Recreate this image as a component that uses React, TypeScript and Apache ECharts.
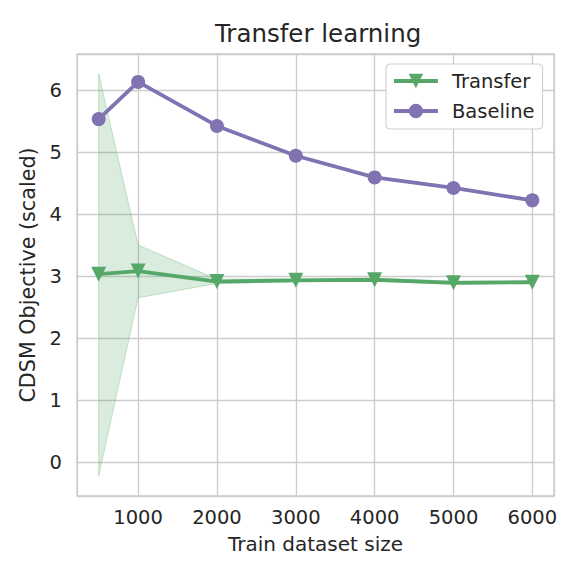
import React, { useEffect, useRef } from "react";
import * as echarts from "echarts";

const trainSizes = [500, 1000, 2000, 3000, 4000, 5000, 6000];
const transferValues = [3.04, 3.09, 2.92, 2.94, 2.95, 2.9, 2.91];
const baselineValues = [5.54, 6.14, 5.43, 4.95, 4.6, 4.43, 4.23];
const transferLower = [-0.21, 2.66, 2.89, 2.92, 2.93, 2.88, 2.89];
const transferUpper = [6.27, 3.51, 2.96, 2.96, 2.97, 2.93, 2.93];

const GREEN = "#55A868";
const PURPLE = "#8172B2";
const TEXT = "#262626";
const GRID = "#cccccc";
const FONT = "DejaVu Sans";

export default function App() {
  const ref = useRef<HTMLDivElement>(null);
  useEffect(() => {
    if (!ref.current) return;
    const chart = echarts.init(ref.current, undefined, { renderer: "svg" });
    const bandData = trainSizes.map((x, i) => [x, transferLower[i], transferUpper[i]]);
    const option = {
      animation: false,
      backgroundColor: "#ffffff",
      textStyle: { fontFamily: FONT, color: TEXT },
      title: {
        text: "Transfer learning",
        left: 210,
        top: 16,
        textStyle: { fontFamily: FONT, fontSize: 24.5, fontWeight: "normal", color: TEXT },
      },
      grid: {
        left: 77,
        top: 54,
        right: 27,
        bottom: 85,
        show: true,
        borderColor: GRID,
        borderWidth: 1.3,
        containLabel: false,
      },
      legend: {
        data: ["Transfer", "Baseline"],
        left: 386,
        top: 64,
        orient: "vertical",
        itemWidth: 44,
        itemHeight: 18,
        itemGap: 10,
        padding: [7, 8, 8, 6],
        backgroundColor: "#ffffff",
        borderColor: GRID,
        borderWidth: 1,
        borderRadius: 4,
        lineStyle: { width: 3.8 },
        textStyle: { fontFamily: FONT, fontSize: 19.5, color: TEXT, lineHeight: 20, padding: [0, 0, 0, 9] },
      },
      xAxis: {
        type: "value",
        min: 225,
        max: 6275,
        name: "Train dataset size",
        nameLocation: "middle",
        nameGap: 38,
        nameTextStyle: { fontFamily: FONT, fontSize: 20, color: TEXT },
        axisLine: { show: false },
        axisTick: { show: false },
        axisLabel: {
          fontFamily: FONT,
          fontSize: 19.5,
          color: TEXT,
          margin: 11,
          showMinLabel: false,
          showMaxLabel: false,
          formatter: (v: number) => (v % 1000 === 0 ? String(v) : ""),
        },
        splitLine: { show: true, lineStyle: { color: GRID, width: 1.3 } },
      },
      yAxis: {
        type: "value",
        min: -0.537,
        max: 6.59,
        name: "CDSM Objective (scaled)",
        nameLocation: "middle",
        nameGap: 31,
        nameTextStyle: { fontFamily: FONT, fontSize: 20.7, color: TEXT },
        axisLine: { show: false },
        axisTick: { show: false },
        axisLabel: {
          fontFamily: FONT,
          fontSize: 19.5,
          color: TEXT,
          margin: 15,
          showMinLabel: false,
          showMaxLabel: false,
          formatter: (v: number) => (Number.isInteger(v) ? String(v) : ""),
        },
        splitLine: { show: true, lineStyle: { color: GRID, width: 1.3 } },
      },
      series: [
        {
          type: "custom",
          name: "band",
          silent: true,
          clip: true,
          data: bandData,
          encode: { x: 0, y: [1, 2] },
          renderItem: (params: any, api: any) => {
            if (params.dataIndex !== 0) return null;
            const upper = bandData.map((d) => api.coord([d[0], d[2]]));
            const lower = bandData.map((d) => api.coord([d[0], d[1]])).reverse();
            return {
              type: "polygon",
              shape: { points: upper.concat(lower) },
              style: { fill: "rgba(85,168,104,0.22)", stroke: "rgba(85,168,104,0.3)", lineWidth: 1 },
            };
          },
          z: 1,
        },
        {
          type: "line",
          name: "Transfer",
          data: trainSizes.map((x, i) => [x, transferValues[i]]),
          color: GREEN,
          lineStyle: { color: GREEN, width: 3.8 },
          itemStyle: { color: GREEN },
          symbol: "triangle",
          symbolRotate: 180,
          symbolSize: 15,
          z: 3,
        },
        {
          type: "line",
          name: "Baseline",
          data: trainSizes.map((x, i) => [x, baselineValues[i]]),
          color: PURPLE,
          lineStyle: { color: PURPLE, width: 3.8 },
          itemStyle: { color: PURPLE },
          symbol: "circle",
          symbolSize: 14,
          z: 3,
        },
      ],
    };
    chart.setOption(option as any);
    return () => chart.dispose();
  }, []);
  return <div ref={ref} style={{ width: 581, height: 581, position: "absolute", left: 0, top: 0 }} />;
}
